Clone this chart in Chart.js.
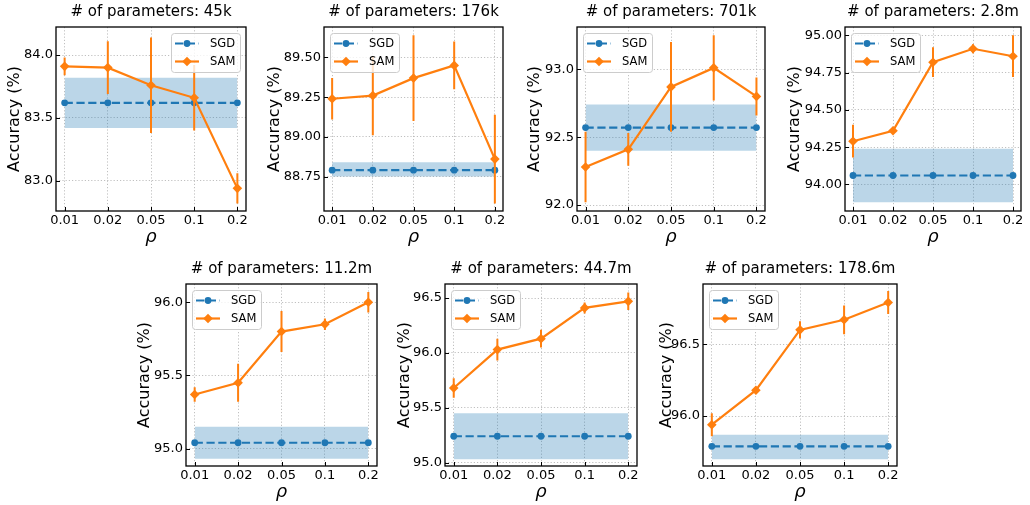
<!DOCTYPE html>
<html><head><meta charset="utf-8">
<script src="https://cdn.jsdelivr.net/npm/chart.js@4.4.1/dist/chart.umd.min.js"></script>
<style>
html,body{margin:0;padding:0;background:#fff;overflow:hidden;width:1030px;height:505px;}
#wrap{position:relative;width:1030px;height:505px;overflow:hidden;background:#fff;}
canvas{position:absolute;}
</style></head><body><div id="wrap"></div>
<script>
// ---------------- data ----------------
const rhoLabels = ['0.01', '0.02', '0.05', '0.1', '0.2'];
const paramCounts = ['45k', '176k', '701k', '2.8m', '11.2m', '44.7m', '178.6m'];

// SGD baseline (independent of rho): mean and shaded band
const sgdMean = [83.62, 88.79, 92.57, 94.06, 95.04, 95.24, 95.79];
const sgdLow  = [83.42, 88.75, 92.40, 93.88, 94.93, 95.03, 95.70];
const sgdHigh = [83.82, 88.84, 92.74, 94.24, 95.15, 95.45, 95.87];

// SAM mean accuracy per rho
const samMean45k   = [83.91, 83.90, 83.76, 83.66, 82.94];
const samMean176k  = [89.24, 89.26, 89.37, 89.45, 88.86];
const samMean701k  = [92.28, 92.41, 92.87, 93.01, 92.80];
const samMean2_8m  = [94.29, 94.36, 94.82, 94.91, 94.86];
const samMean11_2m = [95.37, 95.45, 95.80, 95.85, 96.00];
const samMean44_7m = [95.68, 96.03, 96.13, 96.41, 96.47];
const samMean178_6m= [95.94, 96.18, 96.60, 96.67, 96.79];

// SAM error-bar half widths per rho
const samErr45k   = [0.07, 0.21, 0.38, 0.26, 0.12];
const samErr176k  = [0.13, 0.25, 0.27, 0.15, 0.28];
const samErr701k  = [0.26, 0.12, 0.33, 0.24, 0.14];
const samErr2_8m  = [0.11, 0.02, 0.10, 0.03, 0.14];
const samErr11_2m = [0.05, 0.13, 0.14, 0.04, 0.07];
const samErr44_7m = [0.09, 0.10, 0.08, 0.05, 0.08];
const samErr178_6m= [0.08, 0.015, 0.06, 0.10, 0.08];

// y-axis tick labels per panel
const yTicks45k   = [83.0, 83.5, 84.0];
const yTicks176k  = [88.75, 89.00, 89.25, 89.50];
const yTicks701k  = [92.0, 92.5, 93.0];
const yTicks2_8m  = [94.00, 94.25, 94.50, 94.75, 95.00];
const yTicks11_2m = [95.0, 95.5, 96.0];
const yTicks44_7m = [95.0, 95.5, 96.0, 96.5];
const yTicks178_6m= [96.0, 96.5];

const samMeans = [samMean45k, samMean176k, samMean701k, samMean2_8m, samMean11_2m, samMean44_7m, samMean178_6m];
const samErrs  = [samErr45k, samErr176k, samErr701k, samErr2_8m, samErr11_2m, samErr44_7m, samErr178_6m];
const yTickSets = [yTicks45k, yTicks176k, yTicks701k, yTicks2_8m, yTicks11_2m, yTicks44_7m, yTicks178_6m];

// ---------------- layout (pixels / axis ranges) ----------------
const panels = [
  {l:56,  t:27,  r:246, b:211, cx:15,  ymin:82.76, ymax:84.223, dec:1, leg:'right'},
  {l:324, t:27,  r:503, b:211, cx:275, ymin:88.533,ymax:89.692, dec:2, leg:'left'},
  {l:577, t:27,  r:765, b:211, cx:535, ymin:91.956,ymax:93.311, dec:1, leg:'left'},
  {l:845, t:27,  r:1021,b:211, cx:795, ymin:93.822,ymax:95.056, dec:2, leg:'left'},
  {l:186, t:284, r:377, b:466, cx:145, ymin:94.881,ymax:96.125, dec:1, leg:'left'},
  {l:445, t:284, r:637, b:466, cx:405, ymin:94.969,ymax:96.628, dec:1, leg:'left'},
  {l:703, t:284, r:897, b:466, cx:667, ymin:95.653,ymax:96.919, dec:1, leg:'left'}
];

const F = '"DejaVu Sans", "Liberation Sans", sans-serif';
const BLUE = '#1f77b4', ORANGE = '#ff7f0e';
const SGD_DASH = [8.2, 3.6];
Chart.defaults.color = '#000';

const decor = {
  id: 'decor',
  afterDraw(chart, args, opts) {
    const ctx = chart.ctx, ca = chart.chartArea;
    ctx.save();
    ctx.strokeStyle = '#000'; ctx.lineWidth = 1; ctx.setLineDash([]);
    const ys = chart.scales.y, xsScale = chart.scales.x;
    ctx.beginPath();
    ys.ticks.forEach(t => { const p = Math.round(ys.getPixelForValue(t.value)) + 0.5; ctx.moveTo(ca.left, p); ctx.lineTo(ca.left + 4, p); });
    xsScale.ticks.forEach(t => { const p = Math.round(xsScale.getPixelForValue(t.value)) + 0.5; ctx.moveTo(p, ca.bottom); ctx.lineTo(p, ca.bottom - 4); });
    ctx.stroke();
    ctx.lineWidth = 1.3;
    ctx.strokeRect(ca.left, ca.top, ca.right - ca.left, ca.bottom - ca.top);
    // legend inside axes
    const fs = 11.5, lw = 69, lh = 39;
    const lx = opts.pos === 'right' ? ca.right - 6 - lw : ca.left + 6;
    const ly = ca.top + 6;
    ctx.beginPath();
    if (ctx.roundRect) ctx.roundRect(lx + 0.5, ly + 0.5, lw, lh, 3); else ctx.rect(lx + 0.5, ly + 0.5, lw, lh);
    ctx.fillStyle = 'rgba(255,255,255,0.8)'; ctx.fill();
    ctx.strokeStyle = '#cccccc'; ctx.lineWidth = 1; ctx.stroke();
    const rows = [
      {label: 'SGD', color: BLUE, dash: SGD_DASH, marker: 'circle'},
      {label: 'SAM', color: ORANGE, dash: [], marker: 'diamond'}
    ];
    rows.forEach((row, k) => {
      const yc = ly + 10.5 + k * 18;
      const x0 = lx + 4, x1 = lx + 28, xm = (x0 + x1) / 2;
      ctx.strokeStyle = row.color; ctx.lineWidth = 2.2; ctx.setLineDash(row.dash);
      ctx.beginPath(); ctx.moveTo(x0, yc); ctx.lineTo(x1, yc); ctx.stroke();
      ctx.setLineDash([]);
      ctx.fillStyle = row.color;
      ctx.beginPath();
      if (row.marker === 'circle') ctx.arc(xm, yc, 3.4, 0, Math.PI * 2);
      else { const r = 4.8; ctx.moveTo(xm, yc - r); ctx.lineTo(xm + r, yc); ctx.lineTo(xm, yc + r); ctx.lineTo(xm - r, yc); ctx.closePath(); }
      ctx.fill();
      ctx.fillStyle = '#000'; ctx.font = fs + 'px ' + F; ctx.textBaseline = 'middle'; ctx.textAlign = 'left';
      ctx.fillText(row.label, lx + 39, yc + 0.5);
    });
    ctx.restore();
  }
};

const wrap = document.getElementById('wrap');
const xsIdx = [0, 1, 2, 3, 4];

panels.forEach((P, i) => {
  const YW = P.l - (P.cx - 12);
  const XH = 37, TH = 27;
  const cl = P.l - YW, ct = P.t - TH;
  const w = YW + (P.r - P.l) + YW;
  const h = TH + (P.b - P.t) + XH;
  const cv = document.createElement('canvas');
  cv.width = w; cv.height = h;
  cv.style.left = cl + 'px'; cv.style.top = ct + 'px';
  cv.style.width = w + 'px'; cv.style.height = h + 'px';
  wrap.appendChild(cv);

  const sam = samMeans[i], err = samErrs[i];
  const samLine = xsIdx.map(k => ({x: k, y: sam[k]}));
  const errLine = [];
  xsIdx.forEach(k => { errLine.push({x: k, y: sam[k] - err[k]}, {x: k, y: sam[k] + err[k]}, {x: k, y: null}); });
  const sgdLine = xsIdx.map(k => ({x: k, y: sgdMean[i]}));
  const hiLine = xsIdx.map(k => ({x: k, y: sgdHigh[i]}));
  const loLine = xsIdx.map(k => ({x: k, y: sgdLow[i]}));
  const yT = yTickSets[i];

  new Chart(cv, {
    type: 'line',
    data: {datasets: [
      {label: 'SAM', data: samLine, borderColor: ORANGE, backgroundColor: ORANGE, borderWidth: 2.2,
       pointStyle: 'rectRot', pointRadius: 4.8, pointBorderWidth: 0, fill: false, order: 1},
      {label: 'SAM err', data: errLine, borderColor: ORANGE, borderWidth: 2, pointRadius: 0, spanGaps: false, fill: false, order: 2},
      {label: 'SGD', data: sgdLine, borderColor: BLUE, backgroundColor: BLUE, borderWidth: 2.2, borderDash: SGD_DASH,
       pointStyle: 'circle', pointRadius: 3.4, pointBorderWidth: 0, fill: false, order: 3},
      {label: 'band hi', data: hiLine, borderColor: 'rgba(0,0,0,0)', borderWidth: 0.01, pointRadius: 0,
       fill: '+1', backgroundColor: 'rgba(31,119,180,0.3)', order: 4},
      {label: 'band lo', data: loLine, borderColor: 'rgba(0,0,0,0)', borderWidth: 0.01, pointRadius: 0, fill: false, order: 5}
    ]},
    options: {
      responsive: false, animation: false, events: [],
      layout: {padding: 0},
      plugins: {
        legend: {display: false}, tooltip: {enabled: false},
        title: {display: true, text: '# of parameters: ' + paramCounts[i], color: '#000',
                font: {family: F, size: 15, weight: 'normal'}, padding: {top: 3.5, bottom: 5.5}},
        decor: {pos: P.leg}
      },
      scales: {
        x: {
          type: 'linear', min: -0.2, max: 4.2,
          afterBuildTicks: a => { a.ticks = xsIdx.map(v => ({value: v})); },
          afterFit: s => { s.height = XH; },
          ticks: {callback: v => rhoLabels[Math.round(v)], font: {family: F, size: 13}, color: '#000', padding: 2, maxRotation: 0, autoSkip: false},
          grid: {color: '#b0b0b0', lineWidth: 0.8, drawTicks: false},
          border: {display: false, dash: [1.2, 2]},
          title: {display: true, text: 'ρ', color: '#000', font: {family: F, size: 18, style: 'italic'}, padding: {top: 0, bottom: 0}}
        },
        y: {
          type: 'linear', position: 'left', min: P.ymin, max: P.ymax,
          afterBuildTicks: a => { a.ticks = yT.map(v => ({value: v})); },
          afterFit: s => { s.width = YW; },
          ticks: {callback: v => Number(v).toFixed(P.dec), font: {family: F, size: 13}, color: '#000', padding: 3, autoSkip: false},
          grid: {color: '#b0b0b0', lineWidth: 0.8, drawTicks: false},
          border: {display: false, dash: [1.2, 2]},
          title: {display: true, text: 'Accuracy (%)', color: '#000', font: {family: F, size: 16}, padding: {top: 2.4, bottom: 0}}
        },
        yr: {
          type: 'linear', position: 'right', min: 0, max: 1,
          afterBuildTicks: a => { a.ticks = []; },
          afterFit: s => { s.width = YW; },
          ticks: {display: false},
          grid: {display: false, drawTicks: false},
          border: {display: false}
        }
      }
    },
    plugins: [decor]
  });
});
</script>
</body></html>
